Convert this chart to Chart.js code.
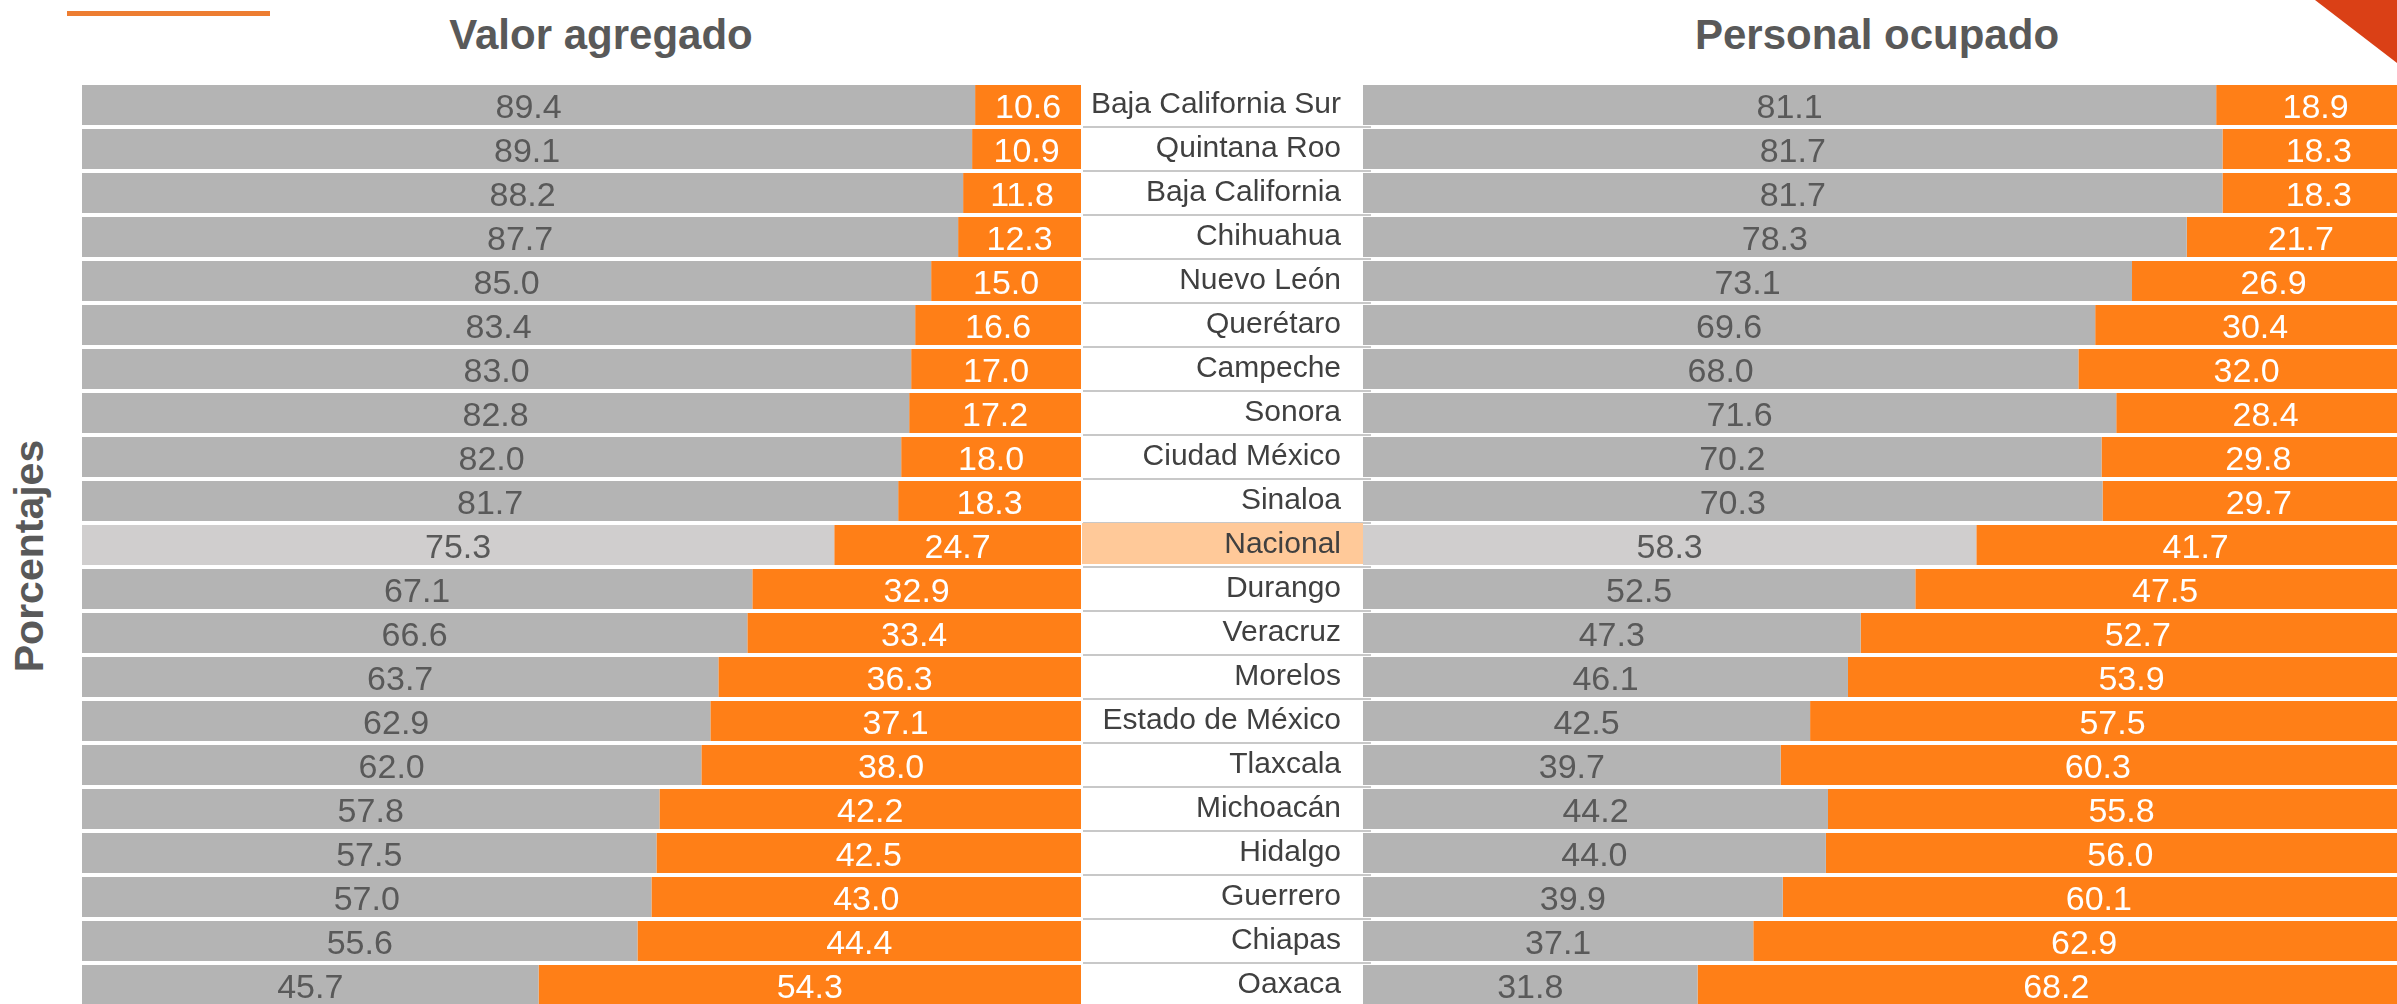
<!DOCTYPE html>
<html>
<head>
<meta charset="utf-8">
<script src="https://cdn.jsdelivr.net/npm/chart.js@4.4.0/dist/chart.umd.min.js"></script>
<style>
  html, body { margin: 0; padding: 0; overflow: hidden; background: #fff; }
  #stage { position: relative; width: 2397px; height: 1004px; overflow: hidden; font-family: "Liberation Sans", Arial, sans-serif; }
  canvas { position: absolute; top: 0; }
  .title { position: absolute; top: 14px; font-weight: bold; font-size: 42px; line-height: 42px; color: #595959; white-space: nowrap; transform: translateX(-50%); }
  #yTitle { position: absolute; left: 29px; top: 556px; font-weight: bold; font-size: 41px; line-height: 41px; color: #595959; white-space: nowrap; transform: translate(-50%, -50%) rotate(-90deg); }
  #topLine { position: absolute; left: 67px; top: 11px; width: 203px; height: 5px; background: #ed7d31; }
  #corner { position: absolute; left: 2315px; top: 0; width: 82px; height: 63px; background: #da4016; clip-path: polygon(0 0, 100% 0, 100% 100%); }
</style>
</head>
<body>
<div id="stage">
  <div id="topLine"></div>
  <div id="corner"></div>
  <div class="title" style="left:601px">Valor agregado</div>
  <div class="title" style="left:1877px">Personal ocupado</div>
  <div id="yTitle">Porcentajes</div>
  <canvas id="leftChart" width="1081" height="1007" style="left:0"></canvas>
  <canvas id="rightChart" width="1334" height="1007" style="left:1081px"></canvas>
</div>
<script>
const states = ['Baja California Sur', 'Quintana Roo', 'Baja California', 'Chihuahua', 'Nuevo León', 'Querétaro', 'Campeche', 'Sonora', 'Ciudad México', 'Sinaloa', 'Nacional', 'Durango', 'Veracruz', 'Morelos', 'Estado de México', 'Tlaxcala', 'Michoacán', 'Hidalgo', 'Guerrero', 'Chiapas', 'Oaxaca'];

// Valor agregado
const valorGris = [89.4, 89.1, 88.2, 87.7, 85.0, 83.4, 83.0, 82.8, 82.0, 81.7, 75.3, 67.1, 66.6, 63.7, 62.9, 62.0, 57.8, 57.5, 57.0, 55.6, 45.7];
const valorNaranja = [10.6, 10.9, 11.8, 12.3, 15.0, 16.6, 17.0, 17.2, 18.0, 18.3, 24.7, 32.9, 33.4, 36.3, 37.1, 38.0, 42.2, 42.5, 43.0, 44.4, 54.3];

// Personal ocupado
const personalGris = [81.1, 81.7, 81.7, 78.3, 73.1, 69.6, 68.0, 71.6, 70.2, 70.3, 58.3, 52.5, 47.3, 46.1, 42.5, 39.7, 44.2, 44.0, 39.9, 37.1, 31.8];
const personalNaranja = [18.9, 18.3, 18.3, 21.7, 26.9, 30.4, 32.0, 28.4, 29.8, 29.7, 41.7, 47.5, 52.7, 53.9, 57.5, 60.3, 55.8, 56.0, 60.1, 62.9, 68.2];

const GRAY = '#b4b4b4';
const GRAY_NAC = '#d0cece';
const ORANGE = '#ff7f17';
const FONT = '"Liberation Sans", Arial, sans-serif';
const nacIdx = states.indexOf('Nacional');
const grayColors = states.map((s, i) => i === nacIdx ? GRAY_NAC : GRAY);

// values written in the middle of each bar segment
const barLabels = {
    id: 'barLabels',
    afterDatasetsDraw(chart) {
        const ctx = chart.ctx;
        ctx.save();
        ctx.font = '34px ' + FONT;
        ctx.textAlign = 'center';
        ctx.textBaseline = 'alphabetic';
        chart.data.datasets.forEach((ds, di) => {
            const meta = chart.getDatasetMeta(di);
            ctx.fillStyle = di === 0 ? '#595959' : '#ffffff';
            meta.data.forEach((bar, i) => {
                const cx = (bar.x + bar.base) / 2;
                ctx.fillText(ds.data[i].toFixed(1), cx, bar.y + 13);
            });
        });
        ctx.restore();
    }
};

// white label boxes with a soft underline, Nacional highlighted
const labelBoxes = {
    id: 'labelBoxes',
    beforeDraw(chart) {
        const ctx = chart.ctx;
        const y = chart.scales.y;
        const meta = chart.getDatasetMeta(0);
        ctx.save();
        meta.data.forEach((bar, i) => {
            const top = bar.y - bar.height / 2;
            const bottom = bar.y + bar.height / 2;
            if (i === nacIdx) {
                ctx.fillStyle = '#ffc999';
                ctx.fillRect(y.left + 1, top - 2, y.width - 1, bottom - top + 1);
            }
            ctx.fillStyle = '#c8c8c8';
            ctx.fillRect(y.left + 2, bottom + 1, y.width + 6, 2);
        });
        ctx.restore();
    }
};

function makeOptions(showLabels) {
    return {
        indexAxis: 'y',
        responsive: false,
        animation: false,
        layout: { padding: { top: 83, left: showLabels ? 0 : 82, right: 0, bottom: 0 } },
        plugins: { legend: { display: false }, tooltip: { enabled: false }, title: { display: false } },
        datasets: { bar: { barPercentage: 40 / 44, categoryPercentage: 1, borderWidth: 0 } },
        scales: {
            x: { stacked: true, min: 0, max: 100, display: false },
            y: {
                stacked: true,
                display: showLabels,
                grid: { display: false, drawTicks: false },
                border: { display: false },
                ticks: { color: '#404040', font: { family: FONT, size: 30 }, padding: 22, autoSkip: false },
                afterFit(scale) {
                    if (!showLabels) return;
                    scale.width = 282;
                    scale.paddingTop = 0;
                    scale.paddingBottom = 0;
                }
            }
        }
    };
}

new Chart(document.getElementById('leftChart'), {
    type: 'bar',
    data: {
        labels: states,
        datasets: [
            { label: 'Gris', data: valorGris, backgroundColor: grayColors },
            { label: 'Naranja', data: valorNaranja, backgroundColor: ORANGE }
        ]
    },
    options: makeOptions(false),
    plugins: [barLabels]
});

new Chart(document.getElementById('rightChart'), {
    type: 'bar',
    data: {
        labels: states,
        datasets: [
            { label: 'Gris', data: personalGris, backgroundColor: grayColors },
            { label: 'Naranja', data: personalNaranja, backgroundColor: ORANGE }
        ]
    },
    options: makeOptions(true),
    plugins: [labelBoxes, barLabels]
});
</script>
</body>
</html>
